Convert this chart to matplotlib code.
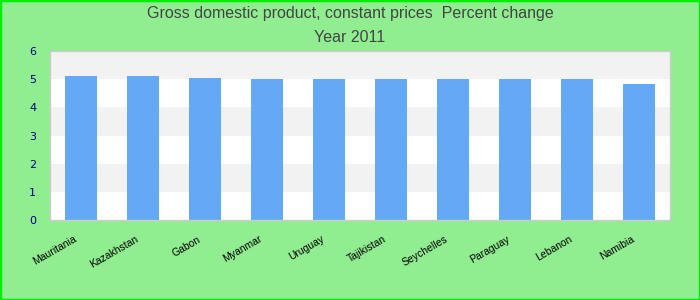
import matplotlib
matplotlib.use("Agg")
import matplotlib.pyplot as plt
from matplotlib.patches import Rectangle
from matplotlib.transforms import ScaledTranslation

countries = ["Mauritania", "Kazakhstan", "Gabon", "Myanmar", "Uruguay",
             "Tajikistan", "Seychelles", "Paraguay", "Lebanon", "Namibia"]
values = [5.11, 5.11, 5.04, 5.02, 5.01, 5.01, 5.01, 5.0, 5.0, 4.83]
yticks = [0, 1, 2, 3, 4, 5, 6]

fig = plt.figure(figsize=(7, 3), dpi=100, facecolor="#90ee90")
fig.patches.append(Rectangle((0, 0), 1, 1, transform=fig.transFigure,
                             fill=False, edgecolor="#00ee00", linewidth=2.5))
ax = fig.add_axes([50/700, 80/300, 620/700, 169/300])
ax.set_facecolor("white")

for i in range(6):
    if i % 2 == 1:
        ax.axhspan(i, i + 1, color="#f2f2f2", zorder=0, linewidth=0)

x = range(len(countries))
ax.bar(x, values, width=0.52, color="#63a9f5", zorder=2)
ax.set_xlim(-0.5, len(countries) - 0.5)
ax.set_ylim(0, 6)
ax.set_yticks(yticks)
ax.set_yticklabels([str(t) for t in yticks], color="#00008b", fontsize=8)
ax.set_xticks(list(x))
ax.set_xticklabels(countries, rotation=30, ha="right", rotation_mode="anchor",
                   fontsize=7.5, color="black", family="Liberation Sans")
ax.tick_params(axis="both", length=0)
ax.tick_params(axis="y", pad=10)
ax.tick_params(axis="x", pad=8)
offset = ScaledTranslation(-8/100, -3/100, fig.dpi_scale_trans)
for lab in ax.get_xticklabels():
    lab.set_transform(lab.get_transform() + offset)
for s in ax.spines.values():
    s.set_color("#cccccc")
    s.set_linewidth(1)

fig.text(0.5, 0.955, "Gross domestic product, constant prices  Percent change",
         ha="center", va="center", fontsize=11.5, color="#444444", family="Liberation Sans")
fig.text(0.5, 0.875, "Year 2011", ha="center", va="center", fontsize=11.5,
         color="#444444", family="Liberation Sans")

fig.savefig("out.png", dpi=100, facecolor=fig.get_facecolor())
